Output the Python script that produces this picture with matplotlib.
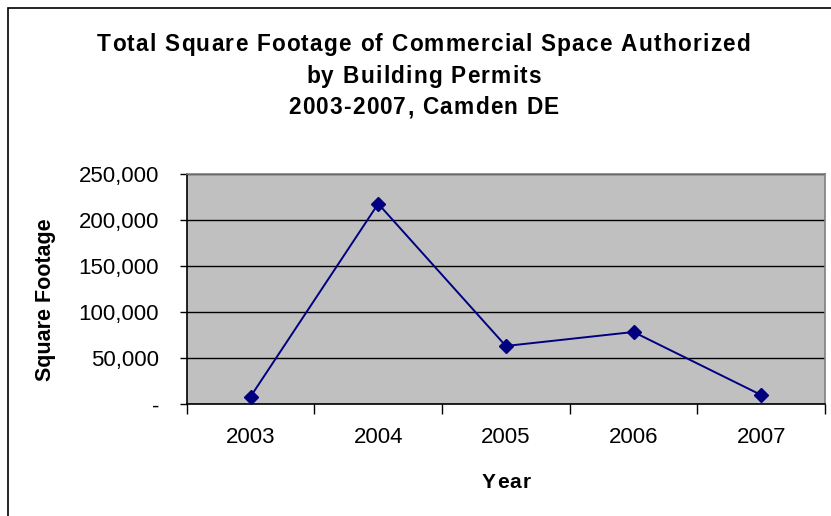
import matplotlib
matplotlib.use("Agg")
import matplotlib.pyplot as plt
from matplotlib.ticker import FuncFormatter, FixedLocator
from matplotlib.patches import Rectangle
from matplotlib.font_manager import FontProperties

plt.rcParams['font.family'] = ['Liberation Sans', 'DejaVu Sans']

years = ["2003", "2004", "2005", "2006", "2007"]
square_footage = [8300, 218000, 63400, 78600, 10100]
y_ticks = [0, 50000, 100000, 150000, 200000, 250000]
title_lines = ["Total Square Footage of Commercial Space Authorized",
               "by Building Permits",
               "2003-2007, Camden DE"]

W, H = 831, 516
DPI = 100
fig = plt.figure(figsize=(W / DPI, H / DPI), dpi=DPI)
renderer = fig.canvas.get_renderer()


def advances(s, size, weight='bold'):
    """Per-character advance widths in pixels (measured between two 'H's)."""
    prop = FontProperties(family='Liberation Sans', weight=weight, size=size)

    def width(t):
        return renderer.get_text_width_height_descent(t, prop, ismath=False)[0]

    base = width('HH')
    return [width('H' + c + 'H') - base for c in s]


def spaced_text(s, cx, baseline, size, tracking):
    """Draw letter-spaced bold text centred at cx (pixels from left)."""
    adv = advances(s, size)
    total = sum(adv) + tracking * (len(s) - 1)
    x = cx - total / 2
    for ch, a in zip(s, adv):
        fig.text(x / W, 1 - baseline / H, ch, fontsize=size, fontweight='bold',
                 ha='left', va='baseline')
        x += a + tracking


# outer chart frame (left and top edges visible)
fig.patches.append(Rectangle((7.5 / W, -0.1), 1.2, (H - 7.5) / H + 0.1,
                             transform=fig.transFigure, fill=False,
                             edgecolor='black', linewidth=1.2))

ax = fig.add_axes([186.7 / W, (H - 404.3) / H, (825 - 186.7) / W, (404.3 - 174.3) / H])
ax.set_facecolor('#C0C0C0')

x = list(range(len(years)))
ax.plot(x, square_footage, color='#000080', linewidth=1.4, marker='D',
        markersize=7, markerfacecolor='#000080', markeredgecolor='#000080',
        zorder=3)

ax.set_xlim(-0.5, len(years) - 0.5)
ax.set_ylim(0, 250000)

ax.set_yticks(y_ticks)
ax.yaxis.set_major_formatter(FuncFormatter(lambda v, p: '-' if v == 0 else f'{int(v):,}'))
ax.grid(axis='y', color='black', linewidth=1.0)
ax.set_axisbelow(True)

ax.set_xticks(x)
ax.set_xticklabels(years)
ax.xaxis.set_minor_locator(FixedLocator([i - 0.5 for i in range(len(years) + 1)]))
ax.tick_params(axis='x', which='major', length=0, pad=16, labelsize=16)
ax.tick_params(axis='x', which='minor', length=7, width=1, color='black')
ax.tick_params(axis='y', which='major', length=5, width=1, pad=15, labelsize=16)

for side in ('top', 'right'):
    ax.spines[side].set_color('#808080')
    ax.spines[side].set_linewidth(1.2)
for side in ('left', 'bottom'):
    ax.spines[side].set_color('black')
    ax.spines[side].set_linewidth(1.2)

# y-axis title
fig.text(46 / W, 1 - 300 / H, 'Square Footage', fontsize=15.5, fontweight='bold',
         rotation=90, ha='center', va='center')

# x-axis title
spaced_text('Year', 506, 488, 15, 1.0)

# chart title, letter-spaced
title_size = 16.3
first_natural = sum(advances(title_lines[0], title_size))
tracking = (653 - first_natural) / (len(title_lines[0]) - 1)
for line, base in zip(title_lines, [51, 82.5, 114]):
    spaced_text(line, 423.5, base, title_size, tracking)

fig.savefig('out.png', dpi=DPI)
